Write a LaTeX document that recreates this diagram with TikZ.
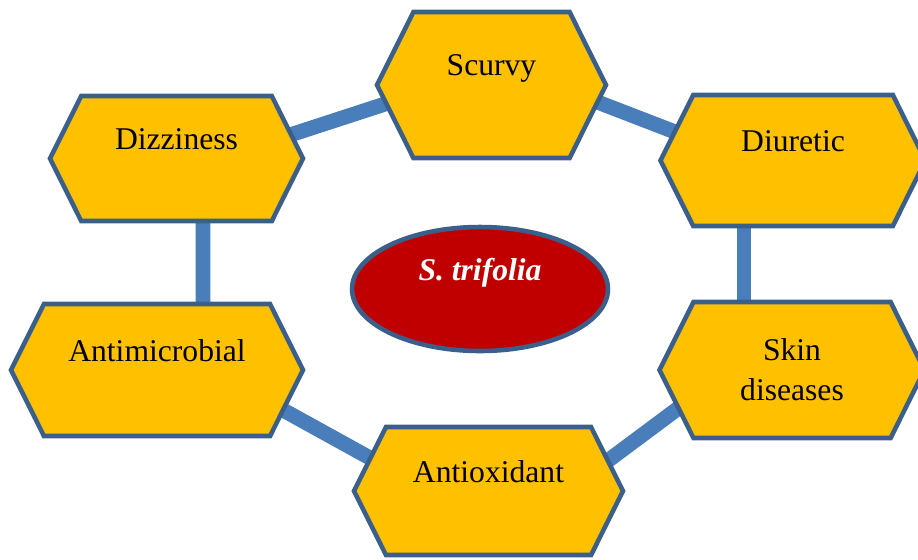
\documentclass[tikz,border=0pt]{standalone}
\usepackage{fontspec}
\setmainfont{Liberation Serif}
\definecolor{hexgold}{HTML}{FFC000}
\definecolor{hexblue}{HTML}{3A5F8B}
\definecolor{linkblue}{HTML}{4A7EBB}
\definecolor{plantred}{HTML}{C00000}
\usetikzlibrary{
    shapes.geometric,
    shapes.symbols,
    calc,
    backgrounds
}
\tikzstyle{use} = [
    signal,
    signal to=west and east,
    signal pointer angle=127,
    draw=hexblue,
    line width=2.6pt,
    fill=hexgold,
    inner sep=0pt,
    align=center,
    font=\fontsize{18}{22.7}\selectfont
]
\tikzstyle{plant} = [
    ellipse,
    draw=hexblue,
    line width=2.6pt,
    fill=plantred,
    text=white,
    minimum width=5.12cm,
    minimum height=2.48cm,
    align=center,
    font=\fontsize{18}{22.7}\selectfont\bfseries\itshape
]
\tikzstyle{link} = [
    line width=8.5pt,
    draw=linkblue
]

\begin{document}
\begin{tikzpicture}[x=0.02cm, y=-0.02cm]
        \useasboundingbox (0,0) rectangle (918,559);

        % Centre
        \node[plant] (plant) at (480,289) {S. trifolia\\\mbox{}};

        % Uses
        \node[use, minimum width=4.58cm, minimum height=2.92cm] (scurvy) at (491.5,85) {Scurvy\\\mbox{}};
        \node[use, minimum width=5.06cm, minimum height=2.5cm] (dizz) at (176.5,158.5) {Dizziness\\\mbox{}};
        \node[use, minimum width=5.3cm, minimum height=2.62cm] (diur) at (793,160.5) {Diuretic\\\mbox{}};
        \node[use, minimum width=5.84cm, minimum height=2.64cm] (antimic) at (157,370) {Antimicrobial\\\mbox{}};
        \node[use, minimum width=5.3cm, minimum height=2.72cm] (skin) at (792,370) {Skin\\diseases};
        \node[use, minimum width=5.38cm, minimum height=2.56cm] (antiox) at (488.5,491) {Antioxidant\\\mbox{}};

        % Links
        \begin{scope}[on background layer]
            \draw[link] ($(dizz)+(93.5,-17)$) -- ($(scurvy)+(-71.5,7.6)$);
            \draw[link] ($(scurvy)+(88.5,10.3)$) -- ($(diur)+(-103,-22.8)$);
            \draw[link] ($(dizz)+(26.5,50)$) -- ($(antimic)+(46,-50)$);
            \draw[link] ($(diur)+(-49,50)$) -- ($(skin)+(-48,-50)$);
            \draw[link] ($(antimic)+(113,32.8)$) -- ($(antiox)+(-98.5,-22)$);
            \draw[link] ($(skin)+(-92,22)$) -- ($(antiox)+(101.5,-17)$);
        \end{scope}
    \end{tikzpicture}
\end{document}
